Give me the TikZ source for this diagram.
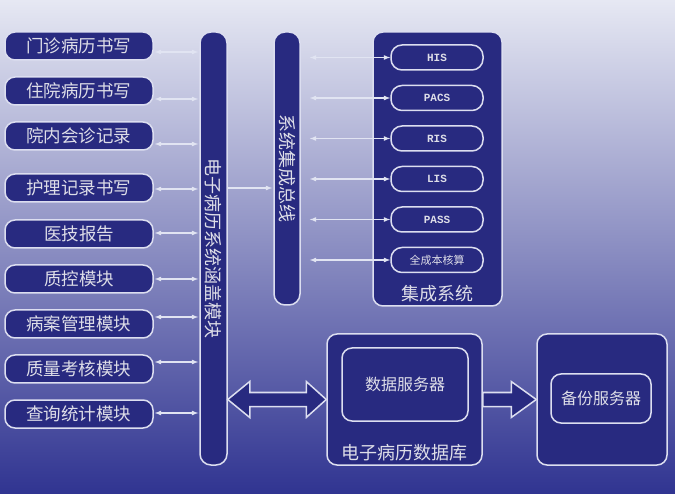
\documentclass[tikz,border=0pt]{standalone}
\usepackage{fontspec}
\setmainfont{Noto Sans CJK SC}
\newfontfamily\monofont{Liberation Mono}
\usetikzlibrary{calc}

\definecolor{bgtop}{RGB}{230,232,243}
\definecolor{bgmid}{RGB}{142,146,202}
\definecolor{bgbot}{RGB}{48,52,145}
\definecolor{boxfill}{RGB}{40,42,128}
\definecolor{boxline}{RGB}{220,222,240}
\definecolor{txt}{RGB}{222,222,232}
\definecolor{linkcol}{RGB}{225,228,242}

\begin{document}
\begin{tikzpicture}[x=1pt,y=-1pt,>=latex,
  panel/.style={draw=boxline,line width=1.5pt,fill=boxfill,rounded corners=10pt,inner sep=0pt,text=txt},
  modbox/.style={panel,minimum width=148pt,minimum height=28pt,font=\fontsize{17.5}{17.5}\selectfont},
  sysbox/.style={panel,rounded corners=11pt,minimum width=92pt,minimum height=25pt,font=\monofont\bfseries\fontsize{11}{11}\selectfont},
  bartext/.style={text=txt,rotate=-90,font=\fontsize{18}{18}\selectfont},
  title/.style={text=txt,font=\fontsize{18}{18}\selectfont},
  srvtext/.style={font=\fontsize{16}{16}\selectfont},
  link/.style={draw=linkcol,line width=1.2pt},
  fatarrow/.style={draw=boxline,line width=1.5pt,fill=boxfill,line join=miter}]
\shade[top color=bgtop,middle color=bgmid,bottom color=bgbot] (0,0) rectangle (675,494);
\useasboundingbox (0,0) rectangle (675,494);

% the two vertical bars
\node[panel,minimum width=27pt,minimum height=433pt,rounded corners=11pt] (ehr) at (213.5,248.5) {};
\node[bartext] at (ehr) {电子病历系统涵盖模块};
\node[panel,minimum width=26pt,minimum height=273pt,rounded corners=11pt] (bus) at (287,168.5) {};
\node[bartext] at (bus) {系统集成总线};

% modules on the left
\foreach \lab/\y/\ay [count=\i] in {门诊病历书写/46/52,住院病历书写/91/99,院内会诊记录/136/144,
    护理记录书写/188/189,医技报告/234/233,质控模块/279/279,病案管理模块/324/317,
    质量考核模块/369/362,查询统计模块/414/413}{
  \node[modbox] (m\i) at (79,\y) {\lab};
  \draw[link,<->,shorten <=1pt,shorten >=1pt] (m\i.east |- 0,\ay) -- (ehr.west |- 0,\ay);
}
\draw[link,->,shorten >=1pt] (ehr.east |- m4) -- (bus.west |- m4);

% integration system
\node[panel,minimum width=129pt,minimum height=274pt] (sys) at (437.5,169) {};
\node[title] at ($(sys.south)+(0,-13)$) {集成系统};
\foreach \lab/\y [count=\j] in {HIS/57.5,PACS/98,RIS/138.5,LIS/179,PASS/219.5}{
  \node[sysbox] (s\j) at (437,\y) {\lab};
  \draw[link,<->,shorten <=9pt] (bus.east |- s\j) -- (s\j.west);
}
\node[sysbox,font=\fontsize{11}{11}\selectfont] (s6) at (437,260) {全成本核算};
\draw[link,<->,shorten <=9pt] (bus.east |- s6) -- (s6.west);

% database and backup
\node[panel,minimum width=155pt,minimum height=131pt] (db) at (404.5,399.5) {};
\node[panel,srvtext,minimum width=126pt,minimum height=73pt] (dsrv) at (405,384.5) {数据服务器};
\node[title] at ($(db.south)+(0,-13)$) {电子病历数据库};
\node[panel,minimum width=130pt,minimum height=131pt] (bak) at (602,399.5) {};
\node[panel,srvtext,minimum width=100pt,minimum height=49pt] (bsrv) at (601,398.5) {备份服务器};

% broad arrows
\coordinate (pL) at (ehr.east |- db);
\coordinate (pR) at (db.west);
\draw[fatarrow] (pL) -- ++(22,-18) -- ++(0,11) -- ($(pR)+(-20,-7)$) -- ++(0,-11) -- (pR)
  -- ++(-20,18) -- ++(0,-11) -- ($(pL)+(22,7)$) -- ++(0,11) -- cycle;
\coordinate (qL) at (db.east);
\coordinate (qR) at (bak.west);
\draw[fatarrow] ($(qL)+(0,-7)$) -- ($(qR)+(-25,-7)$) -- ++(0,-11) -- (qR) -- ++(-25,18)
  -- ++(0,-11) -- ($(qL)+(0,7)$) -- cycle;
\end{tikzpicture}
\end{document}
